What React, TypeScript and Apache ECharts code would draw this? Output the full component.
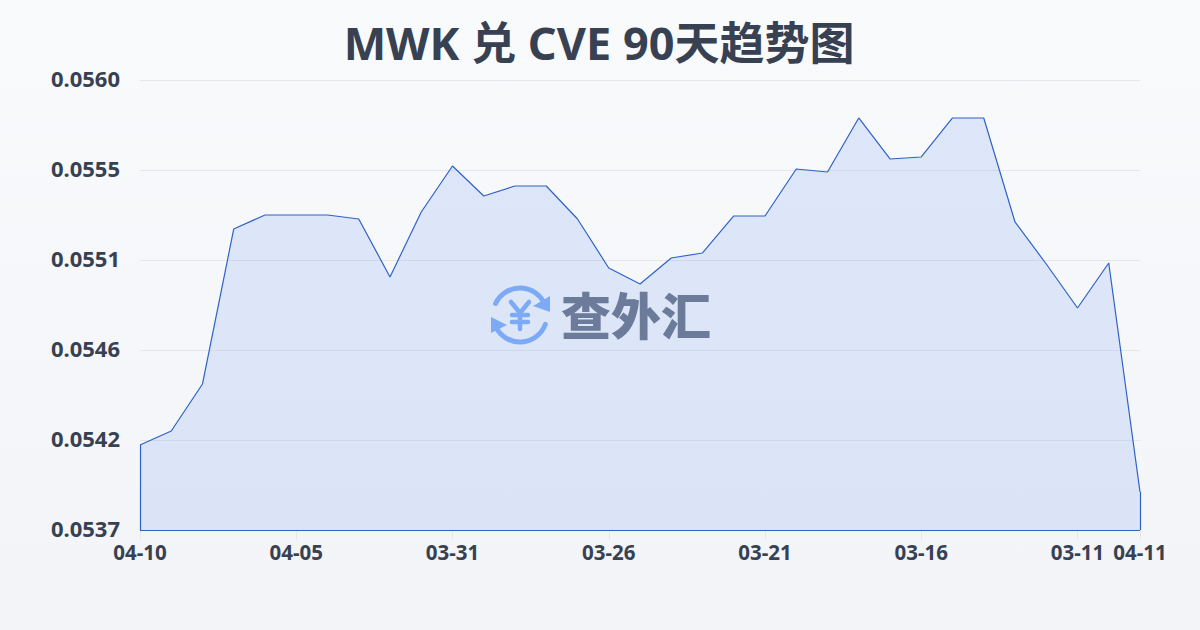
import React, { useEffect, useRef } from "react";
import * as echarts from "echarts";

const titleText = "MWK 兑 CVE 90天趋势图";
const categories = ["04-10","04-09","04-08","04-07","04-06","04-05","04-04","04-03","04-02","04-01","03-31","03-30","03-29","03-28","03-27","03-26","03-25","03-24","03-23","03-22","03-21","03-20","03-19","03-18","03-17","03-16","03-15","03-14","03-13","03-12","03-11","03-10","04-11"];
const rates = [0.0541335,0.0542049,0.0544446,0.0552351,0.0553065,0.0553065,0.0553065,0.0552861,0.0549903,0.0553218,0.0555564,0.0554034,0.0554544,0.0554544,0.0552861,0.0550362,0.0549546,0.0550872,0.0551127,0.0553014,0.0553014,0.0555411,0.0555258,0.0558012,0.0555921,0.0556023,0.0558012,0.0558012,0.0552708,0.0550566,0.0548322,0.0550617,0.0538938];
const labelIndexes = [0,5,10,15,20,25,30,32];
const yMin = 0.0537;
const yStep = 0.0537 / 117;
const latin = "'Noto Sans','Noto Sans CJK SC',sans-serif";
const logoBlue = "#8ab4f8";

const App = () => {
  const ref = useRef<HTMLDivElement>(null);
  useEffect(() => {
    const chart = echarts.init(ref.current!, null, { renderer: "svg" });
    const lastCat = categories[categories.length - 1];
    const lastVal = rates[rates.length - 1];
    const cx = 520, cy = 315;
    const stroke = { stroke: logoBlue, lineWidth: 4.5, lineCap: "round" };
    const seg = (x1: number, y1: number, x2: number, y2: number) => ({ type: "line", shape: { x1, y1, x2, y2 }, style: stroke });
    chart.setOption({
      animation: false,
      backgroundColor: new echarts.graphic.LinearGradient(0, 0, 0, 1, [
        { offset: 0, color: "#f8fafc" },
        { offset: 1, color: "#f2f4f7" },
      ]),
      title: {
        text: titleText, left: 594, textAlign: "center", top: 15,
        textStyle: { fontSize: 45, fontWeight: "bold", color: "#374151", fontFamily: latin },
      },
      grid: { left: 140, right: 60, top: 80, bottom: 100 },
      xAxis: {
        type: "category", boundaryGap: false, data: categories,
        axisLine: { show: false },
        axisTick: { show: true, length: 10, interval: (i: number) => labelIndexes.includes(i), lineStyle: { color: "#e5e7eb" } },
        splitLine: { show: false },
        axisLabel: {
          interval: (i: number) => labelIndexes.includes(i), margin: 12, hideOverlap: false,
          fontSize: 20.5, fontWeight: "bold", color: "#374151", fontFamily: latin,
        },
      },
      yAxis: {
        type: "value", min: yMin, max: yMin + yStep * 5, interval: yStep,
        axisLine: { show: false }, axisTick: { show: false },
        splitLine: { lineStyle: { color: "#e5e7eb", width: 1 } },
        axisLabel: {
          margin: 20, fontSize: 22, fontWeight: "bold", color: "#374151", fontFamily: latin,
          verticalAlign: "bottom", lineHeight: 4,
          formatter: (v: number) => v.toFixed(4),
        },
      },
      series: [{
        type: "line", data: rates, symbol: "none", smooth: false,
        lineStyle: { color: "#2f62c6", width: 1.2 },
        areaStyle: { color: "rgba(37,99,235,0.17)" },
        markLine: {
          silent: true, symbol: "none", label: { show: false },
          lineStyle: { color: "#2f62c6", width: 1.2, type: "solid" },
          data: [
            [{ coord: [categories[0], rates[0]] }, { coord: [categories[0], yMin] }],
            [{ coord: [categories[0], yMin] }, { coord: [lastCat, yMin] }],
            [{ coord: [lastCat, lastVal] }, { coord: [lastCat, yMin] }],
          ],
        },
      }],
      graphic: [{
        type: "group", silent: true, z: 100,
        children: [
          { type: "arc", shape: { cx, cy, r: 27, startAngle: -2.7, endAngle: -0.35 }, style: { stroke: logoBlue, lineWidth: 5, lineCap: "round", fill: "none" } },
          { type: "arc", shape: { cx, cy, r: 27, startAngle: 0.35, endAngle: 2.7 }, style: { stroke: logoBlue, lineWidth: 5, lineCap: "round", fill: "none" } },
          { type: "polygon", shape: { points: [[550, 296], [550, 312], [533, 306]] }, style: { fill: logoBlue } },
          { type: "polygon", shape: { points: [[491, 317], [507, 325], [491, 333]] }, style: { fill: logoBlue } },
          seg(511, 302, 520, 313), seg(529, 302, 520, 313), seg(520, 313, 520, 329), seg(512, 315, 528, 315), seg(512, 322, 528, 322),
          { type: "text", x: 636, y: 313, style: { text: "查外汇", fontSize: 50, fontWeight: 900, fill: "#767e8e", align: "center", verticalAlign: "middle", fontFamily: "'Noto Sans CJK SC',sans-serif" } },
        ],
      }],
    });
    return () => chart.dispose();
  }, []);
  return <div ref={ref} style={{ position: "fixed", left: 0, top: 0, width: 1200, height: 630 }} />;
};

export default App;
